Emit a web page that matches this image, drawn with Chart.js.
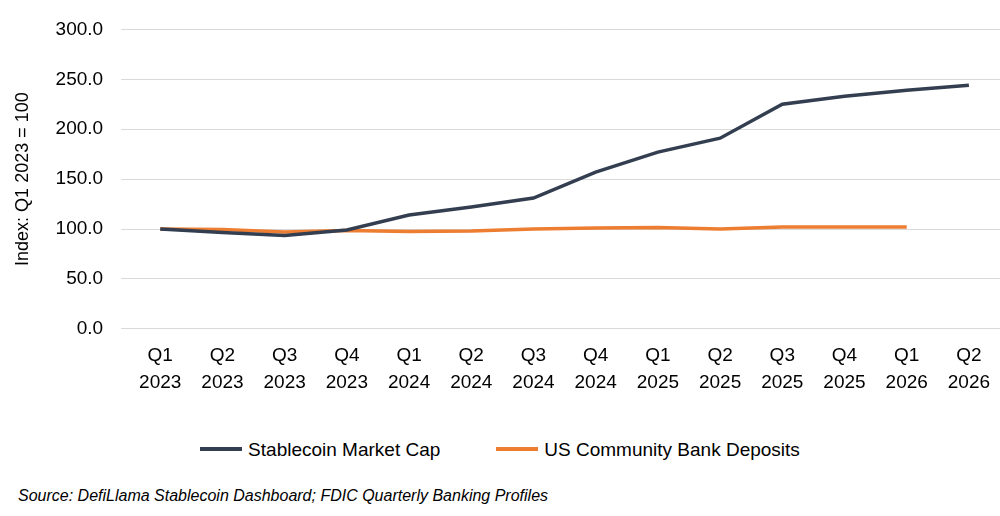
<!DOCTYPE html>
<html><head><meta charset="utf-8">
<script src="https://cdn.jsdelivr.net/npm/chart.js@4"></script>
<style>
body{margin:0;background:#fff;font-family:"Liberation Sans",Arial,sans-serif;}
#wrap{position:absolute;left:0;top:0;width:1000px;height:402px;}
#legend{position:absolute;top:439px;left:0;width:1000px;text-align:center;font-size:19px;color:#000;}
#legend span.it{display:inline-block;margin:0 28px;}
#legend i{display:inline-block;width:42px;height:4px;vertical-align:middle;margin-right:6px;position:relative;top:-2px;}
#src{position:absolute;left:18px;top:487px;font-size:16px;font-style:italic;color:#000;}
</style></head><body>
<div id="wrap"><canvas id="c"></canvas></div>
<div id="legend"><span class="it"><i style="background:#333F50"></i>Stablecoin Market Cap</span><span class="it"><i style="background:#ED7D31"></i>US Community Bank Deposits</span></div>
<div id="src">Source: DefiLlama Stablecoin Dashboard; FDIC Quarterly Banking Profiles</div>
<script>
const categories=[["Q1","2023"],["Q2","2023"],["Q3","2023"],["Q4","2023"],["Q1","2024"],["Q2","2024"],["Q3","2024"],["Q4","2024"],["Q1","2025"],["Q2","2025"],["Q3","2025"],["Q4","2025"],["Q1","2026"],["Q2","2026"]];
const stablecoin=[100,96.5,93.5,99,114,122,131,157,177,191,225,233,239,244];
const bankDeposits=[100,99.5,97,98.5,97.5,98,100,101,101.5,100,102,102,102,null];
new Chart(document.getElementById('c'),{
 type:'line',
 data:{labels:categories,datasets:[
  {label:'Stablecoin Market Cap',data:stablecoin,borderColor:'#333F50',borderWidth:3.5,pointRadius:0,tension:0},
  {label:'US Community Bank Deposits',data:bankDeposits,borderColor:'#ED7D31',borderWidth:3.5,pointRadius:0,tension:0}
 ]},
 options:{responsive:true,maintainAspectRatio:false,animation:false,
  layout:{padding:{top:26,right:0,left:8,bottom:0}},
  plugins:{legend:{display:false},tooltip:{enabled:false}},
  scales:{
   x:{offset:true,grid:{display:false},border:{color:'#d9d9d9'},ticks:{color:'#000',font:{size:19,family:'Liberation Sans',lineHeight:1.4},maxRotation:0,padding:6}},
   y:{min:0,max:300,ticks:{stepSize:50,color:'#000',font:{size:19,family:'Liberation Sans'},padding:18,callback:v=>v.toFixed(1)},
      grid:{color:'#d9d9d9'},border:{display:false},
      title:{display:true,text:'Index: Q1 2023 = 100',color:'#000',font:{size:18,family:'Liberation Sans'}}}
  }}
});
</script></body></html>
